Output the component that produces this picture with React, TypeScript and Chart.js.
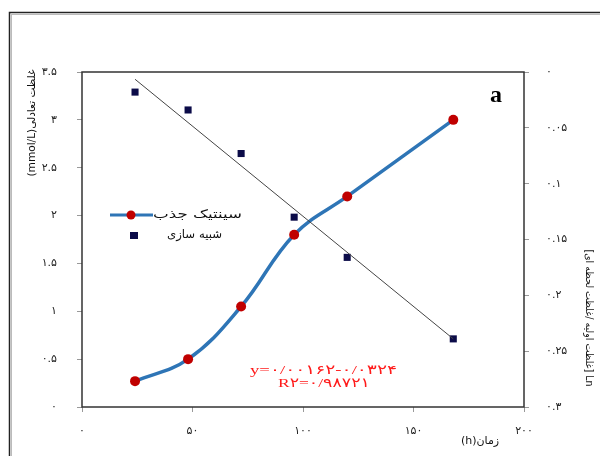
import React, { useEffect, useRef } from "react";
import { Chart, registerables } from "chart.js";

Chart.register(...registerables);

// ---- data ----
const timeHours = [24, 48, 72, 96, 120, 168];
const kineticValues = [0.27, 0.5, 1.05, 1.8, 2.2, 3.0];
const simulationValues = [-0.018, -0.034, -0.073, -0.13, -0.166, -0.239];
const trendX = [24, 168];
const trendY = [-0.0065, -0.239];

const xMin = 0;
const xMax = 200;
const xStep = 50;
const leftMin = 0;
const leftMax = 3.5;
const leftStep = 0.5;
const rightMin = -0.3;
const rightMax = 0;
const rightStep = 0.05;

const kineticLabel = "سینتیک جذب";
const simulationLabel = "شبیه سازی";
const equationText = "y=۰/۰۰۱۶۲-۰/۰۳۲۴";
const r2Text = "R۲=۰/۹۸۷۲۱";
const panelLabel = "a";
const xTitle = "(h)زمان";
const leftTitleParts = ["(mmol/L)", "غلظت تعادلی"];
const rightTitleParts = ["[", "غلظت لحظه ای", "/ ", "غلظت اولیه", "] Ln"];

const faDigits = "۰۱۲۳۴۵۶۷۸۹";
const toFa = (s: string) => s.replace(/[0-9]/g, (d) => faDigits[+d]);

const FONT = "'DejaVu Sans', sans-serif";
const BLUE = "rgb(46,117,182)";
const RED = "#c00000";
const NAVY = "#0b0b48";

// draws text segments left-to-right starting at x (0 = left edge), stretched to targetWidth
function drawParts(ctx: CanvasRenderingContext2D, parts: string[], x: number, y: number, targetWidth: number, centered: boolean) {
  const widths = parts.map((p) => ctx.measureText(p).width);
  const total = widths.reduce((a, b) => a + b, 0);
  const sx = targetWidth / total;
  ctx.save();
  ctx.translate(x, y);
  ctx.scale(sx, 1);
  ctx.textAlign = "left";
  let cx = centered ? -total / 2 : 0;
  parts.forEach((p, i) => {
    ctx.fillText(p, cx, 0);
    cx += widths[i];
  });
  ctx.restore();
}

const decorPlugin = {
  id: "decor",
  afterDraw(chart: any) {
    const ctx: CanvasRenderingContext2D = chart.ctx;
    const ca = chart.chartArea;
    ctx.save();
    // outer frame
    ctx.strokeStyle = "#222";
    ctx.lineWidth = 1.5;
    ctx.strokeRect(9.5, 12.5, 700, 600);
    ctx.strokeStyle = "#bbb";
    ctx.lineWidth = 1;
    ctx.strokeRect(11.5, 14.5, 700, 600);
    // plot area box
    ctx.strokeStyle = "#333";
    ctx.lineWidth = 1.5;
    ctx.strokeRect(ca.left, ca.top, ca.right - ca.left, ca.bottom - ca.top);

    ctx.fillStyle = "#111";
    ctx.font = `11px ${FONT}`;
    ctx.textBaseline = "middle";

    // left title (rotated counter-clockwise)
    ctx.save();
    ctx.translate(32, 123);
    ctx.rotate(-Math.PI / 2);
    drawParts(ctx, leftTitleParts, 0, 0, 107, true);
    ctx.restore();

    // right title (rotated clockwise)
    ctx.save();
    ctx.font = `10px ${FONT}`;
    ctx.translate(589, 318);
    ctx.rotate(Math.PI / 2);
    drawParts(ctx, rightTitleParts, 0, 0, 137, true);
    ctx.restore();

    // x title
    ctx.textAlign = "center";
    ctx.fillText(xTitle, 480, 441);

    // legend
    const ly1 = 215;
    const ly2 = 235;
    ctx.strokeStyle = BLUE;
    ctx.lineWidth = 3;
    ctx.beginPath();
    ctx.moveTo(110, ly1);
    ctx.lineTo(153, ly1);
    ctx.stroke();
    ctx.fillStyle = RED;
    ctx.beginPath();
    ctx.arc(131, ly1, 4.5, 0, Math.PI * 2);
    ctx.fill();
    ctx.fillStyle = NAVY;
    ctx.fillRect(130, ly2 - 3, 8, 7);
    ctx.fillStyle = "#111";
    ctx.font = `12px ${FONT}`;
    drawParts(ctx, [kineticLabel], 153, ly1, 89, false);
    drawParts(ctx, [simulationLabel], 167, ly2, 55, false);

    // equation
    ctx.fillStyle = "#ff1a1a";
    ctx.font = `13px 'Liberation Serif', ${FONT}`;
    (ctx as any).letterSpacing = "0px";
    drawParts(ctx, [equationText], 250, 371, 147, false);
    drawParts(ctx, [r2Text], 278, 384, 92, false);

    // panel label
    ctx.fillStyle = "#000";
    ctx.textAlign = "center";
    ctx.font = `bold 24px 'Liberation Serif', serif`;
    ctx.fillText(panelLabel, 496, 96);
    ctx.restore();
  },
};

export default function App() {
  const ref = useRef<HTMLCanvasElement | null>(null);
  useEffect(() => {
    if (!ref.current) return;
    const chart = new Chart(ref.current, {
      type: "line",
      data: {
        datasets: [
          {
            label: "trend",
            data: trendX.map((x, i) => ({ x, y: trendY[i] })),
            yAxisID: "y1",
            borderColor: "#444",
            borderWidth: 1,
            pointRadius: 0,
            tension: 0,
          },
          {
            label: kineticLabel,
            data: timeHours.map((x, i) => ({ x, y: kineticValues[i] })),
            yAxisID: "y",
            borderColor: BLUE,
            borderWidth: 3.5,
            tension: 0.4,
            pointRadius: 5,
            pointBackgroundColor: RED,
            pointBorderColor: RED,
            pointBorderWidth: 0,
          },
          {
            label: simulationLabel,
            data: timeHours.map((x, i) => ({ x, y: simulationValues[i] })),
            yAxisID: "y1",
            showLine: false,
            pointStyle: "rect",
            pointRadius: 5,
            pointBackgroundColor: NAVY,
            pointBorderColor: NAVY,
            pointBorderWidth: 0,
          },
        ],
      },
      options: {
        responsive: false,
        animation: false,
        layout: { padding: { top: 72, left: 0, right: 0, bottom: 0 } },
        plugins: { legend: { display: false }, tooltip: { enabled: false } },
        scales: {
          x: {
            type: "linear",
            min: xMin,
            max: xMax,
            afterFit: (s: any) => {
              s.height = 49;
            },
            ticks: {
              stepSize: xStep,
              padding: 13,
              color: "#222",
              font: { family: FONT, size: 11 },
              callback: (v: any) => toFa(String(v)),
            },
            grid: { drawOnChartArea: false, drawTicks: true, tickLength: 5, color: "#999" },
            border: { display: false },
          },
          y: {
            position: "left",
            min: leftMin,
            max: leftMax,
            afterFit: (s: any) => {
              s.width = 82;
            },
            ticks: {
              stepSize: leftStep,
              padding: 20,
              color: "#222",
              font: { family: FONT, size: 11 },
              callback: (v: any) => toFa(String(+Number(v).toFixed(2))),
            },
            grid: { drawOnChartArea: false, drawTicks: true, tickLength: 5, color: "#999" },
            border: { display: false },
          },
          y1: {
            position: "right",
            min: rightMin,
            max: rightMax,
            afterFit: (s: any) => {
              s.width = 76;
            },
            ticks: {
              stepSize: rightStep,
              padding: 17,
              color: "#222",
              font: { family: FONT, size: 11 },
              callback: (v: any) => toFa(String(+Math.abs(Number(v)).toFixed(2))),
            },
            grid: { drawOnChartArea: false, drawTicks: true, tickLength: 5, color: "#999" },
            border: { display: false },
          },
        },
      },
      plugins: [decorPlugin],
    } as any);
    return () => chart.destroy();
  }, []);
  return (
    <div style={{ position: "absolute", left: 0, top: 0, width: 600, height: 456, background: "#fff" }}>
      <canvas ref={ref} width={600} height={456} style={{ display: "block" }} />
    </div>
  );
}
